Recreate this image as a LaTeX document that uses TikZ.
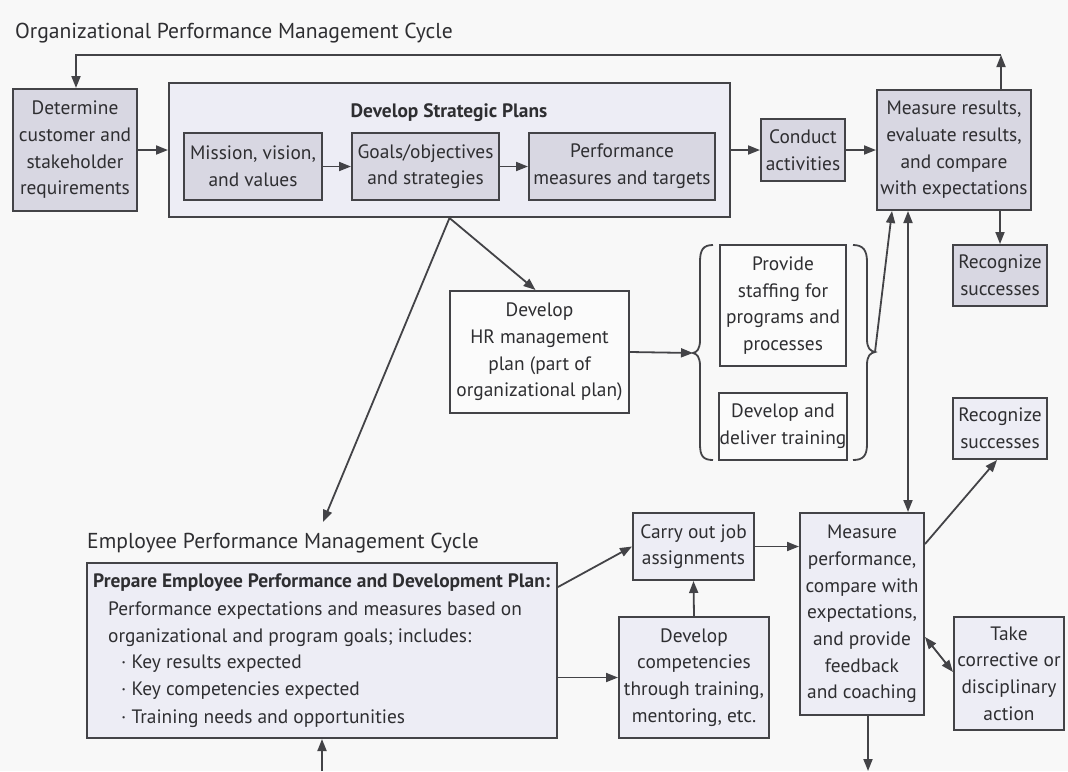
\documentclass[tikz,border=0pt]{standalone}
\usepackage{fontspec}
\setmainfont{PT Sans}
\usetikzlibrary{arrows.meta}
\definecolor{bgc}{HTML}{F8F8F8}
\definecolor{darkf}{HTML}{D8D7E2}
\definecolor{lightf}{HTML}{EDEDF5}
\definecolor{whitef}{HTML}{FBFBFB}
\definecolor{linec}{HTML}{434347}
\definecolor{txtc}{HTML}{2E2E31}
\newcommand\bxfont{\fontsize{19.4}{26.7}\selectfont}
\newcommand\hdfont{\fontsize{21.6}{25}\selectfont}
\begin{document}
\begin{tikzpicture}[x=1pt,y=-1pt,
  box/.style={draw=linec, line width=2pt, align=center, text=txtc, font=\bxfont, inner sep=1pt},
  dk/.style={box, fill=darkf},
  lt/.style={box, fill=lightf},
  wt/.style={box, fill=whitef},
  sz/.style n args={2}{minimum width=#1pt, minimum height=#2pt},
  arr/.style={draw=linec, line width=1.8pt, -{Triangle[length=12pt,width=9pt]}},
  darr/.style={draw=linec, line width=1.8pt, {Triangle[length=12pt,width=9pt]}-{Triangle[length=12pt,width=9pt]}},
  brace/.style={draw=linec, line width=1.8pt},
  heading/.style={text=txtc, font=\hdfont, inner sep=0pt},
  prepline/.style={text=txtc, font=\bxfont, inner sep=0pt, anchor=base west}
]
% canvas
\path[fill=bgc] (0,0) rectangle (1068,771);

% ---------- organizational cycle ----------
\node[heading, anchor=base west] (orgtitle) at (15,38) {Organizational Performance Management Cycle};

\node[dk, sz={124}{122}] (det) at (75,150) {Determine\\customer and\\stakeholder\\requirements};
\node[lt, sz={561}{134}] (strat) at (449.5,150) {};
\node[text=txtc, font=\bxfont\bfseries, inner sep=0pt, anchor=base] (sptitle) at (449,117) {Develop Strategic Plans};
\node[dk, sz={138}{67}] (mission) at (253,166.5) {Mission, vision,\\and values};
\node[dk, sz={147}{67}] (goals) at (425.5,166.5) {Goals/objectives\\and strategies};
\node[dk, sz={186}{67}] (perf) at (622,166.5) {Performance\\measures and targets};
\node[dk, sz={84}{62}] (conduct) at (803,150) {Conduct\\activities};
\node[dk, sz={154}{120}] (mres) at (954,150) {Measure results,\\evaluate results,\\and compare\\with expectations};
\node[dk, sz={94}{61}] (rec1) at (1000,275.5) {Recognize\\successes};

% HR plan and its two branches
\node[wt, sz={179}{122}] (hr) at (539.5,352) {Develop\\HR management\\plan (part of\\organizational plan)};
\node[wt, sz={126}{121}] (staff) at (783,305.5) {Provide\\staffing for\\programs and\\processes};
\node[wt, sz={126}{67}] (train) at (783,426.5) {Develop and\\deliver training};

\coordinate (lcusp) at (693,353);
\coordinate (rcusp) at (875,352);
\draw[brace] (713,245) .. controls (703,245) and (700,250) .. (700,262) -- (700,340)
  .. controls (700,349) and (697,352) .. (lcusp)
  .. controls (697,354) and (700,357) .. (700,366) -- (700,444)
  .. controls (700,456) and (703,460) .. (713,460);
\draw[brace] (853,245) .. controls (863,245) and (867,250) .. (867,262) -- (867,339)
  .. controls (867,348) and (870,351) .. (rcusp)
  .. controls (870,353) and (867,356) .. (867,365) -- (867,444)
  .. controls (867,456) and (863,460) .. (853,460);

% ---------- employee cycle ----------
\node[heading, anchor=base west] (emptitle) at (87,548) {Employee Performance Management Cycle};

\node[lt, sz={470}{175}] (prep) at (322,650.5) {};
\node[prepline, font=\bxfont\bfseries] (pl1) at (93,587) {Prepare Employee Performance and Development Plan:};
\node[prepline] (pl2) at (108,615) {Performance expectations and measures based on};
\node[prepline] (pl3) at (108,642) {organizational and program goals; includes:};
\node[prepline] (pl4) at (121,668) {· Key results expected};
\node[prepline] (pl5) at (121,695) {· Key competencies expected};
\node[prepline] (pl6) at (121,723) {· Training needs and opportunities};

\node[lt, sz={121}{67}] (carry) at (693.5,546.5) {Carry out job\\assignments};
\node[lt, sz={150}{121}] (devc) at (694,677.5) {Develop\\competencies\\through training,\\mentoring, etc.};
\node[lt, sz={124}{202}] (mperf) at (862,614) {Measure\\performance,\\compare with\\expectations,\\and provide\\feedback\\and coaching};
\node[lt, sz={94}{61}] (rec2) at (1000,428.5) {Recognize\\successes};
\node[lt, sz={110}{113}] (take) at (1009,673.5) {Take\\corrective or\\disciplinary\\action};

% ---------- connectors ----------
\coordinate (loopR) at (1001,55);
\coordinate (loopL) at (76,55);
\draw[arr] (mres.north -| loopR) -- (loopR);
\draw[arr] (loopR) -- (loopL) -- (det.north -| loopL);

\draw[arr] (det.east) -- (strat.west);
\draw[arr] (mission.east) -- (goals.west);
\draw[arr] (goals.east) -- (perf.west);
\draw[arr] (strat.east) -- (conduct.west);
\draw[arr] (conduct.east) -- (mres.west);
\draw[arr] (mres.south -| rec1.north) -- (rec1.north);

\coordinate (eptip) at (323,522);
\draw[arr] (strat.south) -- ([xshift=-4pt]hr.north);
\draw[arr] (strat.south) -- (eptip);
\draw[arr] (hr.east) -- (lcusp);
\draw[arr] (rcusp) -- ([xshift=-62pt]mres.south);
\draw[darr] ([xshift=-46pt]mres.south) -- ([xshift=-46pt]mres.south |- mperf.north);

\draw[arr] ([yshift=-25pt]prep.north east) -- (carry.west);
\draw[arr] (prep.east |- devc.west) -- (devc.west);
\draw[arr] (devc.north) -- (carry.south);
\draw[arr] (carry.east) -- (mperf.west |- carry.east);
\draw[arr] ([yshift=-32pt]mperf.north east) -- ([xshift=-3pt]rec2.south);
\draw[darr] ([yshift=-125pt]mperf.north east) -- ([yshift=1.5pt]take.west);

\coordinate (botR) at (868,771);
\coordinate (botL) at (322,771);
\draw[arr] (mperf.south -| botR) -- (botR);
\draw[arr] (botL) -- (prep.south);
\end{tikzpicture}
\end{document}
